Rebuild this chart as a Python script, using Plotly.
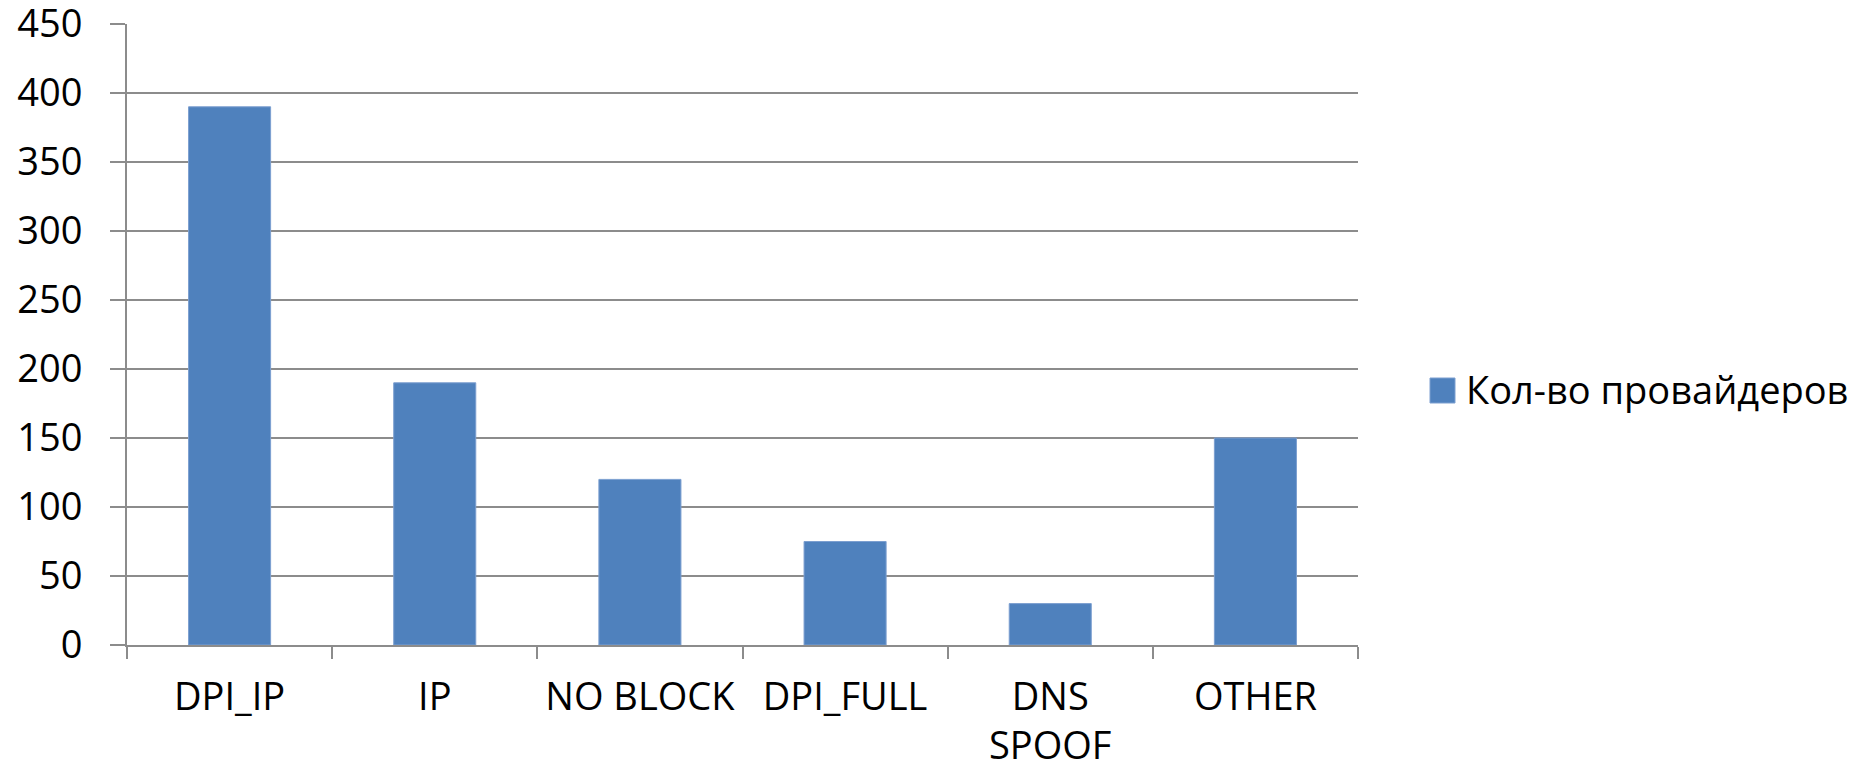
import plotly.graph_objects as go

# Blocking method categories and number of providers using each
categories = ["DPI_IP", "IP", "NO BLOCK", "DPI_FULL", "DNS SPOOF", "OTHER"]
tick_labels = ["DPI_IP", "IP", "NO BLOCK", "DPI_FULL", "DNS<br>SPOOF", "OTHER"]
providers = [390, 190, 120, 75, 30, 150]
series_name = "Кол-во провайдеров"
y_ticks = [0, 50, 100, 150, 200, 250, 300, 350, 400, 450]

FONT = "Open Sans"
GRID = "#8c8c8c"
BAR = "#4f81bd"

# plot area in pixels (used to place the legend key in paper units)
PX_L, PX_R, PX_T, PX_B = 127, 1358, 24, 645
PW, PH = PX_R - PX_L, PX_B - PX_T

fig = go.Figure(
    go.Bar(
        x=categories,
        y=providers,
        name=series_name,
        marker=dict(color=BAR, line=dict(color="#7c9fd0", width=1)),
        showlegend=False,
    )
)

# Legend key drawn as a square swatch plus label to the right of the plot
fig.add_shape(
    type="rect", xref="paper", yref="paper",
    x0=(1430 - PX_L) / PW, x1=(1455 - PX_L) / PW,
    y0=(PX_B - 403) / PH, y1=(PX_B - 378) / PH,
    fillcolor=BAR, line=dict(color="#7c9fd0", width=1),
)
fig.add_annotation(
    xref="paper", yref="paper",
    x=(1464 - PX_L) / PW, y=(PX_B - 389) / PH,
    xanchor="left", yanchor="middle",
    text=series_name, showarrow=False,
    font=dict(family=FONT, size=38, color="#000000"),
)

fig.update_layout(
    width=1870,
    height=766,
    margin=dict(l=PX_L, r=1870 - PX_R, t=PX_T, b=766 - PX_B, autoexpand=False),
    paper_bgcolor="white",
    plot_bgcolor="white",
    bargap=0.6,
    showlegend=False,
    font=dict(family=FONT, size=38, color="#000000"),
)

fig.update_xaxes(
    type="category",
    tickmode="array",
    tickvals=categories,
    ticktext=tick_labels,
    tickson="boundaries",
    ticks="outside",
    ticklen=12,
    tickcolor=GRID,
    tickwidth=2,
    showline=True,
    linecolor=GRID,
    linewidth=2,
    showgrid=False,
    automargin=False,
    ticklabeloverflow="allow",
    ticklabelstandoff=17,
    tickfont=dict(family=FONT, size=38),
)

fig.update_yaxes(
    range=[0, 450.01],
    tickmode="array",
    tickvals=y_ticks,
    ticks="outside",
    ticklen=15,
    tickcolor=GRID,
    tickwidth=2,
    showline=True,
    linecolor=GRID,
    linewidth=2,
    showgrid=True,
    gridcolor=GRID,
    gridwidth=2,
    zeroline=False,
    automargin=False,
    ticklabeloverflow="allow",
    ticklabelstandoff=20,
    tickfont=dict(family=FONT, size=38),
)

fig.write_html("out.html")
